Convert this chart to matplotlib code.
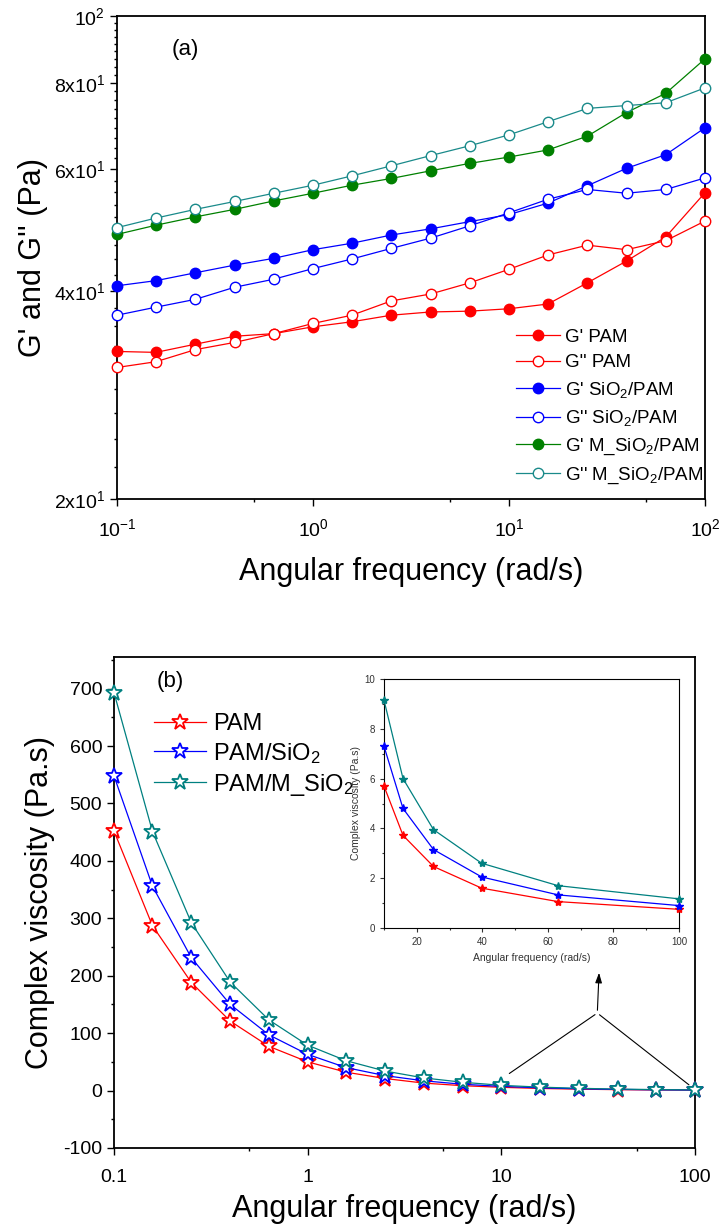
import matplotlib
matplotlib.use('Agg')
import matplotlib.pyplot as plt
from matplotlib.ticker import FixedLocator, FixedFormatter, NullFormatter

plt.rcParams['font.family'] = ['Liberation Sans', 'DejaVu Sans']
plt.rcParams['mathtext.fontset'] = 'custom'
plt.rcParams['mathtext.rm'] = 'Liberation Sans'
plt.rcParams['mathtext.it'] = 'Liberation Sans:italic'
plt.rcParams['mathtext.bf'] = 'Liberation Sans:bold'
plt.rcParams['axes.unicode_minus'] = False

# angular frequency (rad/s)
freq = [0.1, 0.158, 0.251, 0.398, 0.631, 1.0, 1.58, 2.51, 3.98, 6.31,
        10.0, 15.8, 25.1, 39.8, 63.1, 100.0]

# (a) storage / loss modulus (Pa)
gp_pam = [32.7, 32.6, 33.5, 34.4, 34.7, 35.5, 36.1, 36.9, 37.3, 37.4, 37.7, 38.3, 41.1, 44.2, 47.9, 55.5]
gpp_pam = [31.0, 31.6, 32.9, 33.7, 34.7, 35.9, 36.9, 38.7, 39.6, 41.1, 43.0, 45.1, 46.6, 45.9, 47.3, 50.5]
gp_si = [40.7, 41.4, 42.5, 43.6, 44.6, 45.9, 46.9, 48.2, 49.2, 50.4, 51.6, 53.6, 56.8, 60.2, 63.0, 68.9]
gpp_si = [36.9, 37.9, 38.9, 40.5, 41.6, 43.1, 44.5, 46.1, 47.7, 49.7, 51.9, 54.3, 56.1, 55.4, 56.1, 58.3]
gp_msi = [48.3, 49.8, 51.2, 52.5, 54.0, 55.4, 56.9, 58.2, 59.7, 61.2, 62.5, 64.0, 67.0, 72.5, 77.3, 86.7]
gpp_msi = [49.4, 51.0, 52.5, 53.9, 55.4, 56.9, 58.7, 60.7, 62.8, 64.9, 67.3, 70.3, 73.5, 74.2, 74.9, 78.7]

# (b) complex viscosity (Pa.s)
eta_pam = [452, 287, 188, 121, 77, 50, 32, 21, 13, 8.5, 5.7, 3.72, 2.47, 1.6, 1.06, 0.75]
eta_si = [548, 356, 231, 150, 97, 63, 40, 26, 17, 11, 7.3, 4.8, 3.15, 2.05, 1.33, 0.9]
eta_msi = [693, 451, 292, 189, 123, 79, 52, 34, 22, 14.5, 9.15, 6.0, 3.95, 2.6, 1.7, 1.17]

RED, BLUE, GREEN, TEAL = '#ff0000', '#0000ff', '#008000', '#1a8a8a'

fig = plt.figure(figsize=(7.19, 12.25), dpi=100)

def style_axes(ax, lw=1.3):
    for s in ax.spines.values():
        s.set_linewidth(lw)
    ax.tick_params(which='both', direction='out', top=False, right=False, width=1.0)
    ax.tick_params(which='major', length=5)
    ax.tick_params(which='minor', length=2.5)

# ---------- panel (a) ----------
ax = fig.add_axes([117/719, 1-499/1225, 588/719, 483/1225])
series_a = [
    (gp_pam, RED, True, "G' PAM"),
    (gpp_pam, RED, False, "G'' PAM"),
    (gp_si, BLUE, True, "G' SiO$_2$/PAM"),
    (gpp_si, BLUE, False, "G'' SiO$_2$/PAM"),
    (gp_msi, GREEN, True, "G' M_SiO$_2$/PAM"),
    (gpp_msi, TEAL, False, "G'' M_SiO$_2$/PAM"),
]
for vals, c, filled, lab in series_a:
    ax.plot(freq, vals, '-o', color=c, lw=0.9, ms=7.5,
            mfc=c if filled else 'white', mec=c, mew=1.0, label=lab, clip_on=False, zorder=3)
ax.set_xscale('log')
ax.set_yscale('log')
ax.set_xlim(0.1, 100)
ax.set_ylim(20, 100)
style_axes(ax)
ax.xaxis.set_major_locator(FixedLocator([0.1, 1, 10, 100]))
ax.xaxis.set_major_formatter(FixedFormatter(['10$^{-1}$', '10$^{0}$', '10$^{1}$', '10$^{2}$']))
ax.xaxis.set_minor_locator(FixedLocator([0.5, 5, 50]))
ax.xaxis.set_minor_formatter(NullFormatter())
ax.yaxis.set_major_locator(FixedLocator([20, 40, 60, 80, 100]))
ax.yaxis.set_major_formatter(FixedFormatter(['2x10$^{1}$', '4x10$^{1}$', '6x10$^{1}$', '8x10$^{1}$', '10$^{2}$']))
minor_y = [20 + k * 20 / 9 for k in range(37) if k % 9]
ax.yaxis.set_minor_locator(FixedLocator(minor_y))
ax.yaxis.set_minor_formatter(NullFormatter())
ax.tick_params(labelsize=14)
ax.tick_params(axis='x', pad=9)
ax.set_xlabel('Angular frequency (rad/s)', fontsize=22, labelpad=12)
ax.set_ylabel("G' and G'' (Pa)", fontsize=22, labelpad=4)
ax.text(0.117, 0.93, '(a)', transform=ax.transAxes, fontsize=16, ha='center', va='center')
ax.legend(loc='lower right', bbox_to_anchor=(1.02, 0.0), frameon=False, fontsize=13.5,
          handlelength=2.3, handletextpad=0.3, labelspacing=0.45, borderpad=0.2)

# ---------- panel (b) ----------
bx = fig.add_axes([114/719, 1-1148/1225, 581/719, 491/1225])
series_b = [(eta_pam, RED, 'PAM'), (eta_si, BLUE, 'PAM/SiO$_2$'), (eta_msi, '#008080', 'PAM/M_SiO$_2$')]
for vals, c, lab in series_b:
    bx.plot(freq, vals, '-*', color=c, lw=0.9, ms=12, mfc='white', mec=c, mew=1.3,
            label=lab, clip_on=False, zorder=3)
bx.set_xscale('log')
bx.set_xlim(0.1, 100)
bx.set_ylim(-100, 755)
style_axes(bx)
bx.xaxis.set_major_locator(FixedLocator([0.1, 1, 10, 100]))
bx.xaxis.set_major_formatter(FixedFormatter(['0.1', '1', '10', '100']))
bx.xaxis.set_minor_locator(FixedLocator([0.5, 5, 50]))
bx.xaxis.set_minor_formatter(NullFormatter())
bx.yaxis.set_major_locator(FixedLocator(list(range(-100, 701, 100))))
bx.yaxis.set_minor_locator(FixedLocator(list(range(-50, 751, 100))))
bx.tick_params(labelsize=14)
bx.tick_params(axis='x', pad=10)
bx.set_xlabel('Angular frequency (rad/s)', fontsize=22, labelpad=6)
bx.set_ylabel('Complex viscosity (Pa.s)', fontsize=22, labelpad=6)
bx.text(0.096, 0.95, '(b)', transform=bx.transAxes, fontsize=16, ha='center', va='center')
bx.legend(loc='upper left', bbox_to_anchor=(0.04, 0.92), frameon=False, fontsize=17,
          handlelength=2.2, handletextpad=0.3, labelspacing=0.25, borderpad=0.2)

# arrow pointing from the high-frequency tail to the inset
apex = (31.3, 135)
bx.annotate('', xy=(10.7, 27), xytext=apex, arrowprops=dict(arrowstyle='-', color='black', lw=0.8))
bx.annotate('', xy=(95.5, 7), xytext=apex, arrowprops=dict(arrowstyle='-', color='black', lw=0.8))
bx.annotate('', xy=(32, 210), xytext=apex,
            arrowprops=dict(arrowstyle='-|>,head_length=0.6,head_width=0.2', color='black', lw=0.8))

# ---------- inset ----------
ix = fig.add_axes([384/719, 1-928/1225, 295/719, 249/1225])
for vals, c, lab in series_b:
    ix.plot(freq[10:], vals[10:], '-*', color=c, lw=0.9, ms=6, mfc=c, mec=c, clip_on=False, zorder=3)
ix.set_xlim(10, 100)
ix.set_ylim(0, 10)
for s in ix.spines.values():
    s.set_linewidth(0.8)
ix.tick_params(which='both', direction='out', top=False, right=False, width=0.8,
               labelsize=7, colors='#333333')
ix.tick_params(which='major', length=3)
ix.tick_params(which='minor', length=1.5)
ix.xaxis.set_major_locator(FixedLocator([20, 40, 60, 80, 100]))
ix.xaxis.set_minor_locator(FixedLocator([10, 30, 50, 70, 90]))
ix.yaxis.set_major_locator(FixedLocator([0, 2, 4, 6, 8, 10]))
ix.yaxis.set_minor_locator(FixedLocator([1, 3, 5, 7, 9]))
ix.set_xlabel('Angular frequency (rad/s)', fontsize=7.5, color='#333333', labelpad=4)
ix.set_ylabel('Complex viscosity (Pa.s)', fontsize=7.5, color='#333333', labelpad=2)

fig.savefig('out.png', dpi=100)
